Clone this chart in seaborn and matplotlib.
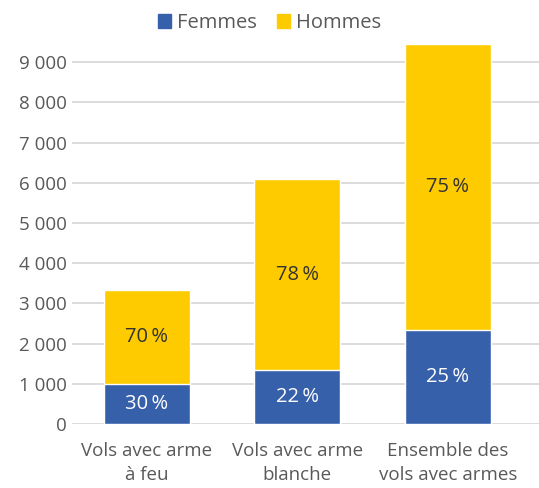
import matplotlib
matplotlib.use("Agg")
from matplotlib import pyplot as plt
from matplotlib.patches import Patch
import seaborn as sns
import pandas as pd

categories = ["Vols avec arme\nà feu", "Vols avec arme\nblanche", "Ensemble des\nvols avec armes"]
femmes = [1005, 1333, 2328]
hommes = [2328, 4762, 7117]
pct_femmes = ["30\u2009%", "22\u2009%", "25\u2009%"]
pct_hommes = ["70\u2009%", "78\u2009%", "75\u2009%"]

BLUE = "#3760ab"
YELLOW = "#fecb00"
GREY = "#595959"

sns.set_style("white")
plt.rcParams["font.family"] = ["Open Sans", "DejaVu Sans"]

df = pd.DataFrame({"cat": categories, "femmes": femmes, "hommes": hommes})
df["total"] = df["femmes"] + df["hommes"]

fig = plt.figure(figsize=(5.39, 4.88), dpi=100)
ax = fig.add_axes([0.134, 0.131, 0.866, 0.824])

# stacked: draw totals in yellow, then femmes in blue over them
sns.barplot(data=df, x="cat", y="total", color=YELLOW, saturation=1, width=0.57, ax=ax)
sns.barplot(data=df, x="cat", y="femmes", color=BLUE, saturation=1, width=0.57, ax=ax)

for i in range(len(categories)):
    ax.text(i, femmes[i] / 2, pct_femmes[i], ha="center", va="center",
            color="white", fontsize=14.5, fontweight="medium")
    ax.text(i, femmes[i] + hommes[i] / 2, pct_hommes[i], ha="center", va="center",
            color="#333333", fontsize=14.5, fontweight="medium")

ax.set_ylim(0, 10000)
ax.set_xlim(-0.494, 2.604)
ax.set_yticks(range(0, 10000, 1000))
ax.set_yticklabels([f"{v:,}".replace(",", " ") for v in range(0, 10000, 1000)])
ax.yaxis.grid(True, color="#d9d9d9", linewidth=1.3)
ax.set_axisbelow(True)
ax.set_xlabel("")
ax.set_ylabel("")
for s in ax.spines.values():
    s.set_visible(False)
ax.tick_params(axis="both", length=0, labelsize=13.5, labelcolor=GREY)
ax.tick_params(axis="y", pad=4)
ax.tick_params(axis="x", pad=13)
for lbl in ax.get_xticklabels():
    lbl.set_linespacing(1.4)

handles = [Patch(color=BLUE, label="Femmes"), Patch(color=YELLOW, label="Hommes")]
fig.legend(handles=handles, loc="upper center", bbox_to_anchor=(0.5, 1.01), ncol=2,
           frameon=False, fontsize=14.5, handlelength=0.65, handleheight=0.65,
           handletextpad=0.3, columnspacing=1.0, labelcolor=GREY)

plt.savefig("out.png", dpi=100)
